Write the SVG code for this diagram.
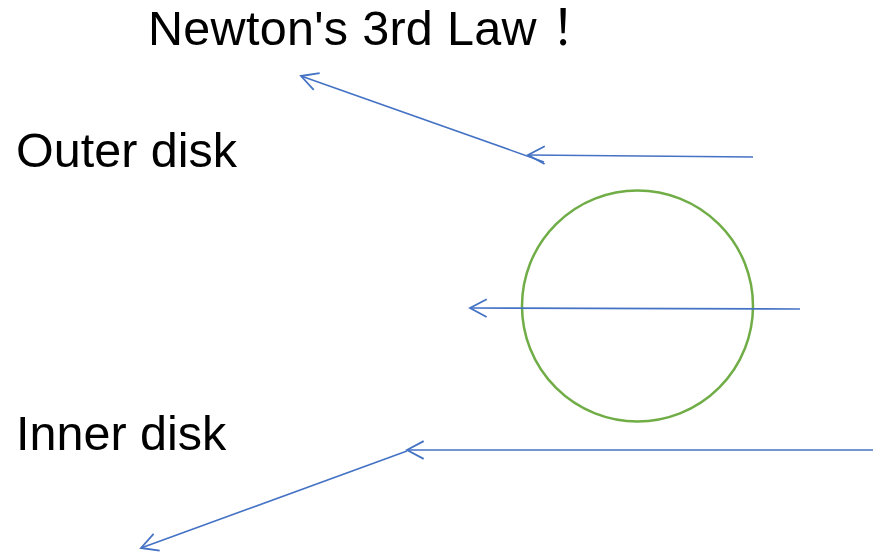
<svg xmlns="http://www.w3.org/2000/svg" width="873" height="555" viewBox="0 0 873 555">
<style>
.t{font-family:"Liberation Sans","Noto Sans CJK SC",Arial,sans-serif;font-size:48.5px;fill:#000}
.cjk{font-family:"Noto Sans CJK SC",sans-serif}
.a{stroke:#4472C4;stroke-width:1.6;fill:none;marker-end:url(#ah)}
</style>
<defs>
<marker id="ah" markerUnits="userSpaceOnUse" markerWidth="20" markerHeight="20" viewBox="-16 -9 18 18" refX="0" refY="0" orient="auto">
<path d="M-15,-8 L0,0 L-15,8" fill="none" stroke="#4472C4" stroke-width="1.6"/>
</marker>
</defs>
<rect width="873" height="555" fill="#fff"/>
<g id="title"><text class="t" x="148" y="45" letter-spacing="0.3">Newton's 3rd Law<tspan class="cjk" x="551">！</tspan></text></g>
<g id="outer-label"><text class="t" x="16" y="167">Outer disk</text></g>
<g id="inner-label"><text class="t" x="16" y="450">Inner disk</text></g>
<g id="disk"><circle cx="637.5" cy="306" r="115.5" fill="none" stroke="#70AD47" stroke-width="2.5"/></g>
<g id="connectors">
<line class="a" x1="753" y1="157" x2="528" y2="155"/>
<line class="a" x1="544" y1="162" x2="301" y2="76"/>
<line class="a" x1="800" y1="309" x2="470" y2="308"/>
<line class="a" x1="873" y1="450" x2="407" y2="450"/>
<line class="a" x1="407" y1="451" x2="141" y2="548"/>
</g>
</svg>
